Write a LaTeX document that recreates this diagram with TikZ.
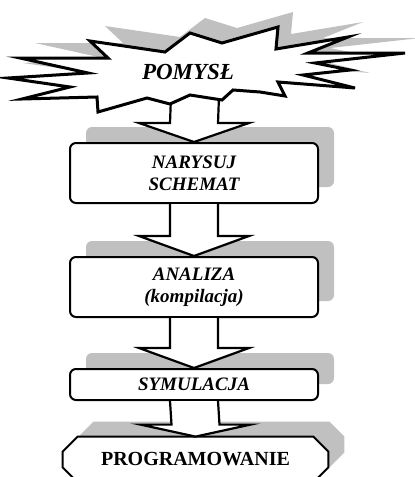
\documentclass[tikz,border=0pt]{standalone}
\usepackage{fontspec}
\setmainfont{Liberation Serif}
\usetikzlibrary{calc,backgrounds}
\definecolor{shadowgray}{RGB}{192,192,192}

% outline of the idea cloud
\newcommand{\burst}[1]{\path[#1] (90,41) -- (165,52) -- (190,33) -- (222,43) -- (278,27)
  -- (276,49) -- (348,37) -- (308,53) -- (405,53) -- (315,63) -- (350,70) -- (303,75)
  -- (355,88) -- (278,82) -- (285,96) -- (260,92) -- (233,90) -- (222,100) -- (190,95)
  -- (170,104) -- (147,98) -- (98,112) -- (97,97) -- (22,99) -- (70,87) -- (8,78)
  -- (88,73) -- (20,58) -- (108,58) -- cycle;}
% octagon round a node
\newcommand{\octagon}[2]{\path[#2] ($(#1.north west)+(15,0)$) -- ($(#1.north east)+(-15,0)$)
  -- ($(#1.north east)+(0,15)$) -- ($(#1.south east)+(0,-15)$) -- ($(#1.south east)+(-15,0)$)
  -- ($(#1.south west)+(15,0)$) -- ($(#1.south west)+(0,-15)$) -- ($(#1.north west)+(0,15)$) -- cycle;}
% wide hollow arrow
\newcommand{\fatarrow}[3][20]{\filldraw[fatarr] ($(#2)+(-24,0)$) -- ($(#3)+(-24,-#1)$)
  -- ($(#3)+(-55,-#1)$) -- (#3) -- ($(#3)+(55,-#1)$) -- ($(#3)+(24,-#1)$) -- ($(#2)+(24,0)$);}

\begin{document}
\begin{tikzpicture}[x=0.5pt, y=-0.5pt,
  txt/.style={font=\fontsize{9.5}{11}\selectfont\bfseries\itshape, align=center},
  box/.style={txt, draw, line width=1pt, fill=white, rounded corners=3pt, minimum width=124pt, inner sep=0pt},
  boxshadow/.style={box, draw=none, fill=shadowgray},
  progbox/.style={minimum width=132.5pt, minimum height=22.5pt, inner sep=0pt, font=\fontsize{10}{12}\selectfont\bfseries},
  fatarr/.style={fill=white, draw, line width=1.1pt, line join=miter}]
\useasboundingbox (0,0) rectangle (414,477);

\coordinate (foot) at (195,96);
\node[box, minimum height=30pt] (b1) at (194,173) {NARYSUJ\\SCHEMAT};
\node[box, minimum height=30pt] (b2) at (194,287) {ANALIZA\\(kompilacja)};
\node[box, minimum height=15.5pt] (b3) at (194,384.5) {SYMULACJA};
\node[progbox] (b4) at (195.5,459.5) {PROGRAMOWANIE};
\node[progbox] (b4s) at ($(b4)+(16,-15)$) {};

\begin{scope}[on background layer]
  \burst{fill=shadowgray, shift={(15,-15)}}
  \node[boxshadow, minimum height=30pt] at ($(b1)+(16,-16)$) {};
  \node[boxshadow, minimum height=30pt] at ($(b2)+(16,-16)$) {};
  \node[boxshadow, minimum height=15.5pt] at ($(b3)+(16,-16)$) {};
  \octagon{b4s}{fill=shadowgray}
  \octagon{b4}{draw, fill=white, line width=1pt}
\end{scope}

\fatarrow[19]{foot}{b1.north}
\burst{draw, fill=white, line width=1.5pt, line join=miter}
\node[txt, font=\fontsize{11.5}{13}\selectfont\bfseries\itshape] (idea) at (188,72) {POMYSŁ};
\fatarrow{b1.south}{b2.north}
\fatarrow{b2.south}{b3.north}
\fatarrow[12]{b3.south}{b4.north}
\end{tikzpicture}
\end{document}
